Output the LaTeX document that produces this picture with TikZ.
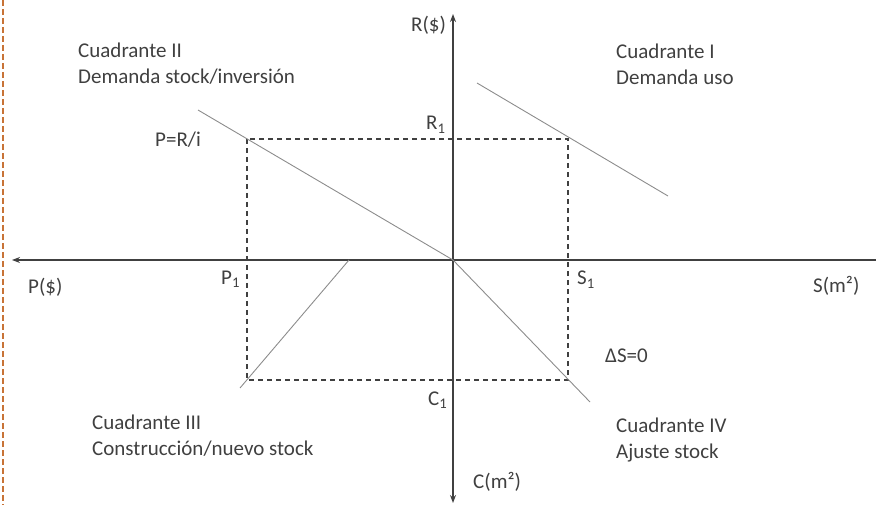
\documentclass[tikz,border=0pt]{standalone}
\usepackage{fontspec}
\setmainfont{Carlito}
\usetikzlibrary{arrows.meta}

\definecolor{txtgray}{RGB}{64,64,64}
\definecolor{linegray}{RGB}{140,140,140}
\definecolor{edgeorange}{RGB}{200,115,55}

\tikzset{
  axis/.style={draw=txtgray, line width=1.8pt},
  curve/.style={draw=linegray, line width=0.9pt},
  guide/.style={draw=txtgray, line width=1.2pt, dash pattern=on 5pt off 4pt},
  lbl/.style={text=txtgray, font=\fontsize{21}{26}\selectfont, inner sep=0pt, anchor=base west, align=left},
}

\begin{document}
\begin{tikzpicture}[x=1pt, y=-1pt]
  \useasboundingbox (0,0) rectangle (876,505);

  % Left edge
  \draw[edgeorange, line width=2.6pt, dash pattern=on 6pt off 3pt] (3,0) -- (3,505);

  % Axes
  \coordinate (o)  at (453,260);
  \coordinate (xl) at (12,260);
  \coordinate (xr) at (876,260);
  \coordinate (yt) at (453,14);
  \coordinate (yb) at (453,503);

  \draw[axis, -{Stealth[length=8pt, width=6pt]}] (xr) -- (xl);
  \draw[axis, {Stealth[length=8pt, width=6pt]}-{Stealth[length=8pt, width=6pt]}] (yb) -- (yt);

  % Dashed rectangle
  \coordinate (pr) at (247,139);
  \coordinate (sc) at (568,380);
  \draw[guide] (pr) rectangle (sc);

  % Quadrant curves
  \coordinate (a1) at (477,83);
  \coordinate (a2) at (668,196);
  \coordinate (b1) at (198,110);
  \coordinate (c1) at (240,388);
  \coordinate (c2) at (349,260);
  \coordinate (d2) at (590,402);

  \draw[curve] (a1) -- (a2);
  \draw[curve] (b1) -- (o);
  \draw[curve] (c1) -- (c2);
  \draw[curve] (o) -- (d2);

  % Axis labels
  \node[lbl] (ry)  at (411,32)  {R(\$)};
  \node[lbl] (cy)  at (473,488) {C(m²)};
  \node[lbl] (px)  at (28,294)  {P(\$)};
  \node[lbl] (sx)  at (813,293) {S(m²)};
  \node[lbl] (r1)  at (426,130) {R\textsubscript{1}};
  \node[lbl] (cc1) at (428,405) {C\textsubscript{1}};
  \node[lbl] (p1)  at (221,284) {P\textsubscript{1}};
  \node[lbl] (s1)  at (577,285) {S\textsubscript{1}};
  \node[lbl] (pri) at (155,147) {P=R/i};
  \node[lbl] (ds)  at (605,362) {ΔS=0};

  % Quadrant labels (base = last line)
  \node[lbl] (q1) at (616,85)  {Cuadrante I\\Demanda uso};
  \node[lbl] (q2) at (78,84)   {Cuadrante II\\Demanda stock/inversión};
  \node[lbl] (q3) at (92,455)  {Cuadrante III\\Construcción/nuevo stock};
  \node[lbl] (q4) at (616,458) {Cuadrante IV\\Ajuste stock};
\end{tikzpicture}
\end{document}
